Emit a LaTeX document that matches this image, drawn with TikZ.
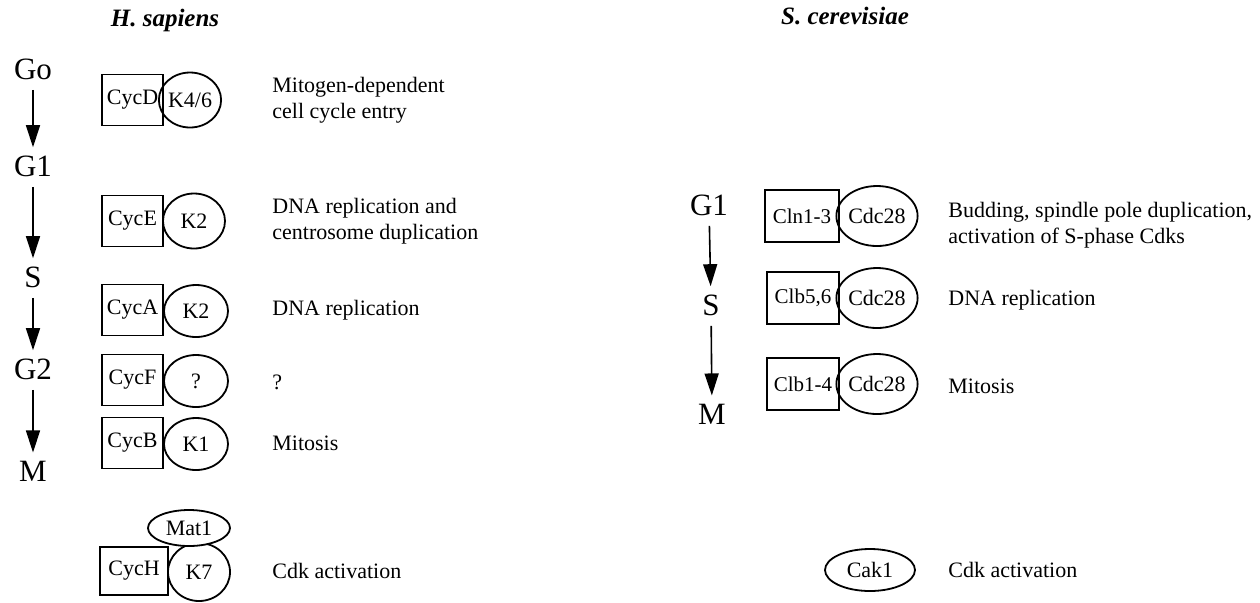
\documentclass[tikz,border=0pt]{standalone}
\usepackage{fontspec}
\setmainfont{Liberation Serif}
\usetikzlibrary{shapes.geometric,arrows.meta}
\begin{document}
\begin{tikzpicture}[x=0.5pt,y=-0.5pt,
  phase/.style={inner sep=0pt,font=\fontsize{15.5}{18}\selectfont},
  ttl/.style={inner sep=0pt,font=\fontsize{12.5}{15}\selectfont\bfseries\itshape},
  cyc/.style={draw,line width=0.9pt,rectangle,inner sep=0pt,minimum width=30.5pt,minimum height=25.5pt,font=\fontsize{11}{13}\selectfont},
  cdk/.style={draw,line width=0.9pt,ellipse,inner sep=0pt,font=\fontsize{11}{13}\selectfont},
  desc/.style={anchor=west,align=left,inner sep=0pt,font=\fontsize{11}{13}\selectfont},
  flow/.style={line width=0.8pt,-{Triangle[length=11pt,width=7pt]},shorten <=5pt,shorten >=4pt}
]
\path[use as bounding box] (0,0) rectangle (1260,602);

% titles
\node[ttl] (th) at (165,20) {H. sapiens};
\node[ttl] (ts) at (845,16) {S. cerevisiae};

% left phases
\node[phase] (lgo) at (33,69) {Go};
\node[phase] (lg1) at (33,166) {G1};
\node[phase] (ls) at (33,277) {S};
\node[phase] (lg2) at (33,369) {G2};
\node[phase] (lm) at (33,471) {M};
\draw[flow] (lgo) -- (lg1);
\draw[flow] (lg1) -- (ls);
\draw[flow] (ls) -- (lg2);
\draw[flow] (lg2) -- (lm);

% left complexes
\node[cdk,minimum width=27pt,minimum height=27.5pt] (k46) at (190,100) {K4/6};
\node[cyc] (cycd) at (132.5,100) {CycD};
\node[desc] (dd) at (272,100) {Mitogen-dependent\\cell cycle entry};

\node[cdk,minimum width=31pt,minimum height=27.5pt] (k2e) at (194,221) {K2};
\node[cyc] (cyce) at (132.5,221) {CycE};
\node[desc] (de) at (272,221) {DNA replication and\\centrosome duplication};

\node[cdk,minimum width=32pt,minimum height=26pt] (k2a) at (196,311) {K2};
\node[cyc] (cyca) at (132.5,310) {CycA};
\node[desc] (da) at (272,310) {DNA replication};

\node[cdk,minimum width=32pt,minimum height=26pt] (kq) at (196,381) {?};
\node[cyc] (cycf) at (132.5,380) {CycF};
\node[desc] (df) at (272,382) {?};

\node[cdk,minimum width=32pt,minimum height=26pt] (k1) at (196,444) {K1};
\node[cyc] (cycb) at (132.5,443) {CycB};
\node[desc] (db) at (272,443) {Mitosis};

\node[cdk,fill=white,minimum width=31pt,minimum height=29pt] (k7) at (199,572) {K7};
\node[cdk,fill=white,minimum width=41pt,minimum height=18pt] (mat1) at (189,528) {Mat1};
\node[cyc,minimum width=34pt,minimum height=24pt] (cych) at (134,571) {CycH};
\node[desc] (dh) at (272,571) {Cdk activation};

% right phases
\node[phase] (rg1) at (709,205) {G1};
\node[phase] (rs) at (711,305) {S};
\node[phase] (rm) at (712,414) {M};
\draw[flow] (rg1) -- (rs);
\draw[flow] (rs) -- (rm);

% right complexes
\node[cdk,minimum width=38pt,minimum height=30pt] (c1) at (877,216) {Cdc28};
\node[cyc,minimum width=37pt,minimum height=26pt,font=\fontsize{10.5}{13}\selectfont] (cln) at (802,216) {Cln1-3};
\node[desc] (r1) at (948,225) {Budding, spindle pole duplication,\\activation of S-phase Cdks};

\node[cdk,minimum width=38pt,minimum height=30pt] (c2) at (877,298) {Cdc28};
\node[cyc,minimum width=36pt,minimum height=26pt,font=\fontsize{10.5}{13}\selectfont] (clb56) at (803,298) {Clb5,6};
\node[desc] (r2) at (948,300) {DNA replication};

\node[cdk,minimum width=38pt,minimum height=30pt] (c3) at (877,384) {Cdc28};
\node[cyc,minimum width=36pt,minimum height=26pt,font=\fontsize{10.5}{13}\selectfont] (clb14) at (803,384) {Clb1-4};
\node[desc] (r3) at (948,386) {Mitosis};

\node[cdk,minimum width=45pt,minimum height=21pt] (cak) at (870,570) {Cak1};
\node[desc] (r4) at (948,570) {Cdk activation};
\end{tikzpicture}
\end{document}
